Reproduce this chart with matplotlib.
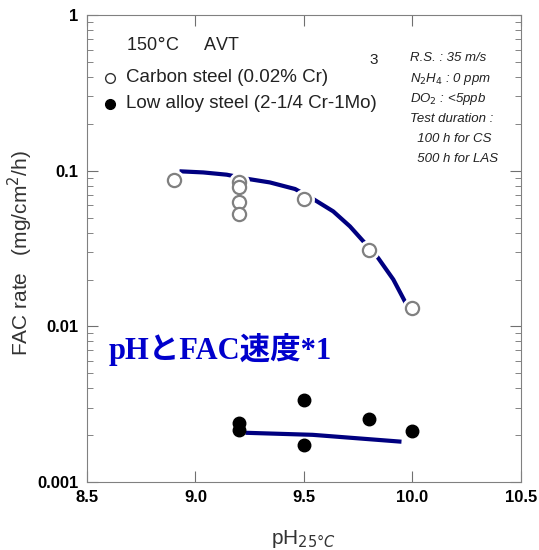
import numpy as np
import matplotlib.pyplot as plt
from matplotlib.ticker import LogLocator, NullFormatter

plt.rcParams['font.family'] = ['Liberation Sans', 'DejaVu Sans']

# carbon steel (open circles)
cs_ph = [8.9, 9.2, 9.2, 9.2, 9.2, 9.5, 9.8, 10.0]
cs_rate = [0.0875, 0.085, 0.079, 0.063, 0.053, 0.066, 0.031, 0.0132]
# low alloy steel (filled circles)
las_ph = [9.2, 9.2, 9.5, 9.5, 9.8, 10.0]
las_rate = [0.0024, 0.00215, 0.00335, 0.00174, 0.00255, 0.00214]
# hand drawn trend curves
cs_fit_ph = [8.936, 9.036, 9.144, 9.243, 9.343, 9.459, 9.535, 9.635, 9.712,
             9.781, 9.842, 9.912, 9.973]
cs_fit_rate = [0.0990, 0.0975, 0.0943, 0.0885, 0.0841, 0.0763, 0.0668, 0.0548,
               0.0439, 0.0343, 0.0275, 0.0200, 0.0138]
las_fit_ph = [9.24, 9.54, 9.94]
las_fit_rate = [0.00207, 0.00201, 0.00182]

xticks = [8.5, 9.0, 9.5, 10.0, 10.5]
yticks = [0.001, 0.01, 0.1, 1]
ylabels = ["0.001", "0.01", "0.1", "1"]

fig = plt.figure(figsize=(5.39, 5.5), dpi=100)
ax = fig.add_axes([0.1614, 0.1236, 0.805, 0.849])

navy = "#000080"
ax.plot(cs_fit_ph, cs_fit_rate, color=navy, lw=3, zorder=2)
ax.plot(las_fit_ph, las_fit_rate, color=navy, lw=3, zorder=2)
# white halo around the open circles, like the gaps in the original
ax.plot(cs_ph, cs_rate, "o", ms=14, mfc="white", mec="white", zorder=3)
ax.plot(cs_ph, cs_rate, "o", ms=9.5, mfc="white", mec="#808080", mew=1.6, zorder=4)
ax.plot(las_ph, las_rate, "o", ms=9, mfc="black", mec="black", zorder=3)

ax.set_yscale("log")
ax.set_xlim(8.5, 10.5)
ax.set_ylim(0.001, 1)
ax.set_xticks(xticks)
ax.set_xticklabels(["%.1f" % t for t in xticks], fontweight="bold", fontsize=12)
ax.set_yticks(yticks)
ax.set_yticklabels(ylabels, fontweight="bold", fontsize=12)
ax.yaxis.set_minor_locator(LogLocator(base=10, subs=np.arange(2, 10)))
ax.yaxis.set_minor_formatter(NullFormatter())
ax.tick_params(which="both", direction="in", top=True, right=True, colors="#707070",
               labelcolor="black")
ax.tick_params(which="major", length=8, pad=6)
ax.tick_params(which="minor", length=4)
for s in ax.spines.values():
    s.set_color("#808080")

ax.set_xlabel("pH$_{25\\degree C}$", fontsize=15, color="#333333")
ax.xaxis.set_label_coords(0.5, -0.098)
ax.set_ylabel("FAC rate   (mg/cm$^2$/h)", fontsize=15, color="#333333")
ax.yaxis.set_label_coords(-0.12, 0.49)

ax.text(0.09, 0.925, "150$\\degree$C     AVT", transform=ax.transAxes, fontsize=13, color="#222222")
ax.text(0.65, 0.895, "3", transform=ax.transAxes, fontsize=11, color="#222222")
ax.plot([0.053], [0.866], "o", transform=ax.transAxes, ms=7, mfc="white", mec="#333333")
ax.plot([0.053], [0.810], "o", transform=ax.transAxes, ms=7, mfc="black", mec="black")
ax.text(0.09, 0.866, "Carbon steel (0.02% Cr)", transform=ax.transAxes, fontsize=13.5,
        va="center", color="#222222")
ax.text(0.09, 0.810, "Low alloy steel (2-1/4 Cr-1Mo)", transform=ax.transAxes, fontsize=13.5,
        va="center", color="#222222")
notes = ["R.S. : 35 m/s", "N$_2$H$_4$ : 0 ppm", "DO$_2$ : <5ppb", "Test duration :",
         "  100 h for CS", "  500 h for LAS"]
for i, t in enumerate(notes):
    ax.text(0.745, 0.907 - i * 0.043, t, transform=ax.transAxes, fontsize=9.5,
            style="italic", va="center", color="#222222")

ax.text(0.05, 0.283, "pHとFAC速度*1", transform=ax.transAxes, fontsize=22, va="center",
        fontweight="bold", color="#0000CC", family=["Liberation Serif", "Noto Sans CJK JP"])

fig.savefig("out.png", dpi=100)
